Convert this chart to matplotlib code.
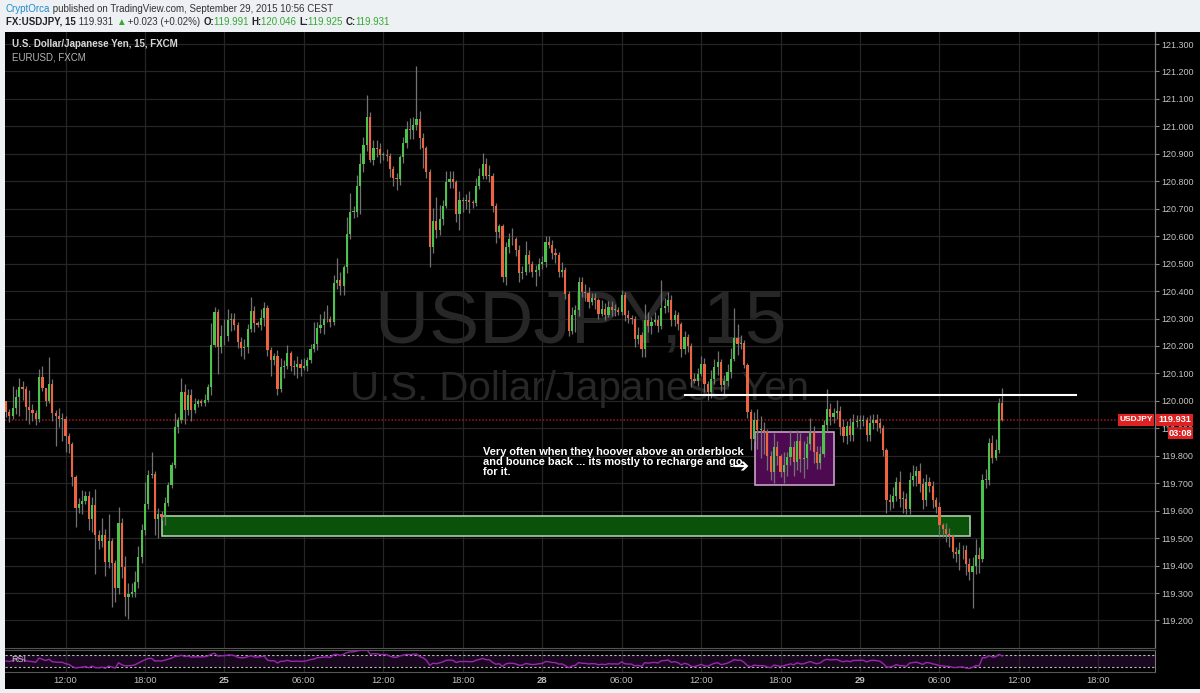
import numpy as np
import pandas as pd
import matplotlib
matplotlib.use('Agg')
import matplotlib.pyplot as plt
from matplotlib.patches import Rectangle

W, H = 1200, 693

# ---------------- data ----------------
open_first = 119.998
closes = [
    119.961, 119.943, 119.973, 120.013, 120.052, 120.043, 119.979, 119.967, 119.955, 119.933,
    120.087, 120.046, 120.001, 120.061, 119.955, 119.945, 119.933, 119.935, 119.872, 119.841,
    119.721, 119.611, 119.626, 119.635, 119.652, 119.571, 119.620, 119.510, 119.489, 119.513,
    119.412, 119.489, 119.409, 119.317, 119.555, 119.396, 119.287, 119.296, 119.305, 119.339,
    119.430, 119.530, 119.626, 119.729, 119.733, 119.571, 119.589, 119.577, 119.628, 119.693,
    119.766, 119.904, 119.930, 120.032, 119.967, 120.022, 119.967, 119.989, 119.998, 119.991,
    120.004, 120.052, 120.205, 120.323, 120.196, 120.235, 120.238, 120.296, 120.299, 120.278,
    120.213, 120.193, 120.196, 120.260, 120.327, 120.282, 120.278, 120.303, 120.340, 120.185,
    120.149, 120.164, 120.042, 120.125, 120.127, 120.173, 120.127, 120.125, 120.133, 120.121,
    120.127, 120.149, 120.188, 120.206, 120.267, 120.275, 120.297, 120.300, 120.288, 120.429,
    120.441, 120.417, 120.486, 120.608, 120.687, 120.689, 120.782, 120.863, 120.932, 121.033,
    120.879, 120.920, 120.918, 120.896, 120.896, 120.893, 120.845, 120.811, 120.808, 120.887,
    120.940, 120.991, 120.985, 121.005, 121.025, 120.957, 120.920, 120.833, 120.559, 120.654,
    120.623, 120.662, 120.711, 120.796, 120.808, 120.796, 120.681, 120.733, 120.729, 120.733,
    120.723, 120.721, 120.782, 120.818, 120.863, 120.818, 120.820, 120.709, 120.614, 120.636,
    120.453, 120.559, 120.591, 120.588, 120.549, 120.464, 120.470, 120.531, 120.500, 120.470,
    120.476, 120.500, 120.506, 120.579, 120.567, 120.537, 120.531, 120.470, 120.476, 120.391,
    120.255, 120.312, 120.330, 120.433, 120.397, 120.393, 120.360, 120.373, 120.366, 120.318,
    120.336, 120.314, 120.342, 120.330, 120.332, 120.324, 120.385, 120.312, 120.303, 120.300,
    120.227, 120.239, 120.190, 120.293, 120.272, 120.287, 120.293, 120.272, 120.340, 120.345,
    120.366, 120.293, 120.312, 120.279, 120.190, 120.233, 120.199, 120.081, 120.074, 120.099,
    120.135, 120.062, 120.032, 120.081, 120.123, 120.141, 120.056, 120.074, 120.105, 120.154,
    120.230, 120.208, 120.211, 120.129, 119.959, 119.862, 119.929, 119.893, 119.893, 119.887,
    119.798, 119.741, 119.832, 119.798, 119.741, 119.765, 119.795, 119.832, 119.777, 119.854,
    119.789, 119.793, 119.842, 119.887, 119.814, 119.773, 119.805, 119.911, 119.972, 119.941,
    119.954, 119.963, 119.905, 119.871, 119.907, 119.874, 119.923, 119.927, 119.927, 119.930,
    119.874, 119.919, 119.932, 119.919, 119.902, 119.820, 119.640, 119.631, 119.655, 119.704,
    119.643, 119.643, 119.607, 119.710, 119.728, 119.744, 119.698, 119.637, 119.704, 119.688,
    119.640, 119.613, 119.546, 119.534, 119.516, 119.506, 119.449, 119.443, 119.455, 119.455,
    119.406, 119.376, 119.400, 119.437, 119.424, 119.713, 119.713, 119.846, 119.793, 119.820,
    119.991, 119.931,
]
# wick lengths beyond the body, in pips (0.01 JPY)
wick_up_pips = [
    0, 1, 8, 3, 3, 2, 1, 6, 2, 1,   3, 4, 0, 10, 2, 1, 3, 2, 1, 1,
    1, 1, 2, 4, 2, 2, 3, 6, 2, 6,   2, 10, 1, 1, 6, 2, 4, 4, 3, 4,
    4, 2, 8, 2, 8, 1, 2, 1, 2, 1,   1, 5, 1, 5, 3, 2, 2, 2, 1, 1,
    2, 1, 8, 2, 1, 4, 6, 4, 2, 2,   1, 2, 3, 2, 5, 2, 1, 3, 2, 1,
    1, 1, 2, 3, 2, 3, 1, 2, 3, 2,   3, 1, 2, 8, 2, 4, 3, 5, 1, 3,
    8, 3, 1, 6, 7, 2, 4, 4, 3, 8,   2, 3, 3, 2, 1, 2, 1, 1, 2, 1,
    2, 3, 4, 3, 19.5, 3, 2, 1, 1, 5,   9, 5, 2, 4, 3, 3, 1, 3, 1, 2,
    3, 1, 3, 3, 4, 2, 4, 1, 1, 1,   1, 2, 2, 4, 1, 2, 2, 5, 2, 1,
    2, 2, 2, 2, 2, 2, 2, 1, 3, 1,   1, 3, 2, 2, 2, 3, 2, 2, 2, 1,
    3, 2, 2, 2, 2, 1, 2, 1, 2, 1,   1, 3, 1, 6, 3, 2, 3, 2, 10, 3,
    3, 2, 2, 1, 1, 2, 1, 1, 2, 2,   3, 2, 1, 3, 3, 4, 1, 2, 3, 4,
    11, 5, 3, 1, 1, 1, 3, 4, 5, 3,  1, 2, 5, 2, 1, 5, 2, 6, 2, 4,
    3, 6, 3, 5, 2, 2, 3, 2, 7, 2,   2, 4, 2, 3, 2, 3, 3, 2, 2, 2,
    1, 3, 2, 2, 2, 1, 1, 2, 3, 2,   4, 3, 2, 3, 4, 2, 3, 2, 3, 2,
    2, 1, 2, 1, 2, 2, 1, 2, 3, 2,   2, 2, 3, 6, 3, 2, 4, 2, 3, 4,
    2, 5.5,
]
wick_dn_pips = [
    2, 2, 1, 2, 7, 4, 5, 5, 3, 2,   1, 1, 2, 1, 3, 11, 3, 8, 6, 3,
    3, 7, 2, 4, 1, 4, 5, 14, 3, 2,  5, 2, 16, 5, 2, 4, 7, 8, 1, 2,
    2, 2, 2, 2, 1, 6, 7, 1, 3, 1,   1, 1, 2, 1, 5, 2, 4, 1, 1, 1,
    1, 1, 3, 1, 10, 2, 3, 2, 4, 2,  2, 3, 4, 2, 1, 3, 1, 2, 3, 2,
    6, 2, 2, 1, 4, 1, 2, 3, 4, 3,   1, 2, 1, 1, 2, 2, 3, 1, 2, 1,
    2, 3, 3, 2, 2, 2, 2, 10, 3, 2,  1, 2, 3, 3, 2, 2, 3, 3, 4, 2,
    2, 2, 3, 3, 2, 4, 7, 2, 7, 2,   3, 2, 2, 1, 2, 2, 3, 6, 4, 3,
    4, 2, 1, 1, 1, 1, 2, 2, 4, 2,   2, 3, 2, 2, 2, 3, 2, 1, 3, 2,
    5, 2, 2, 2, 1, 2, 3, 2, 2, 2,   2, 1, 6, 2, 2, 3, 2, 1, 3, 2,
    1, 2, 1, 2, 2, 1, 1, 2, 2, 2,   3, 2, 3, 3, 2, 3, 1, 2, 1, 2,
    2, 2, 2, 2, 3, 2, 2, 3, 1, 2,   1, 3, 3, 2, 2, 3, 2, 3, 2, 2,
    1, 4, 2, 1, 2, 4, 1, 7, 10, 8,  5, 3, 4, 3, 2, 4, 4, 3, 5, 3,
    5, 7, 4, 2, 4, 2, 2, 1, 2, 3,   2, 2, 3, 2, 3, 2, 2, 2, 3, 2,
    2, 2, 2, 3, 2, 2, 5, 3, 2, 2,   3, 5, 2, 2, 2, 4, 3, 3, 2, 2,
    3, 2, 4, 3, 3, 4, 2, 3, 6, 3,   4, 3, 13, 3, 5, 1, 3, 2, 2, 1,
    1, 0.6,
]

price_ticks = [119.2, 119.3, 119.4, 119.5, 119.6, 119.7, 119.8, 119.9,
               120.0, 120.1, 120.2, 120.3, 120.4, 120.5, 120.6, 120.7,
               120.8, 120.9, 121.0, 121.1, 121.2, 121.3]
time_labels = ['12:00', '18:00', '25', '06:00', '12:00', '18:00', '28',
               '06:00', '12:00', '18:00', '29', '06:00', '12:00', '18:00']
day_labels = ['25', '28', '29']
first_label_bar = 18
bars_per_label = 24

orderblock = dict(x0=47.0, x1=291.2, lo=119.509, hi=119.581)
range_box = dict(x0=226.3, x1=250.2, lo=119.692, hi=119.887)
resistance = dict(x0=205.1, x1=323.3, y=120.020)
last_price = 119.931

note = ("Very often when they hoover above an orderblock\n"
        "and bounce back ... its mostly to recharge and go\n"
        "for it.")

# ---------------- derived ----------------
closes_a = np.array(closes)
opens_a = np.array([open_first] + closes[:-1])
n = len(closes_a)
idx = np.arange(n)
top = np.maximum(opens_a, closes_a)
bot = np.minimum(opens_a, closes_a)
highs = top + np.array(wick_up_pips) * 0.01
lows = bot - np.array(wick_dn_pips) * 0.01
up = closes_a >= opens_a

# RSI(14), Wilder smoothing
cs = pd.Series(closes_a)
d = cs.diff()
gain = d.clip(lower=0)
loss = (-d).clip(lower=0)
gain.iloc[0] = 0.02
loss.iloc[0] = 0.02
ag = gain.ewm(alpha=1 / 14, adjust=False).mean()
al = loss.ewm(alpha=1 / 14, adjust=False).mean()
rsi = 100 - 100 / (1 + ag / al)

# ---------------- pixel geometry ----------------
PX_PER_PRICE = 274.5
Y_121_3 = 44.0
BAR0_X = 6.0
BAR_W = 3.31


def px_to_price(y):
    return 121.3 - (y - Y_121_3) / PX_PER_PRICE


def px_to_bar(x):
    return (x - BAR0_X) / BAR_W


fig = plt.figure(figsize=(W / 100, H / 100), dpi=100)
fig.patch.set_facecolor('#eef1f3')

bg = fig.add_axes([0, 0, 1, 1])
bg.set_xlim(0, W)
bg.set_ylim(H, 0)
bg.axis('off')
bg.add_patch(Rectangle((5, 32), W - 5, 657, facecolor='#000000', edgecolor='none'))


def pax(x0, y0, x1, y1):
    return fig.add_axes([x0 / W, 1 - y1 / H, (x1 - x0) / W, (y1 - y0) / H])


# watermark
bg.text(581, 343, 'USDJPY, 15', fontsize=54, color='#272727', ha='center',
        va='baseline', family='Liberation Sans')
bg.text(580, 400, 'U.S. Dollar/Japanese Yen', fontsize=29, color='#272727',
        ha='center', va='baseline', family='Liberation Sans')

# ---------------- main price pane ----------------
ax = pax(5, 32, 1155, 648)
ax.set_facecolor('none')
ax.set_xlim(px_to_bar(5), px_to_bar(1155))
ax.set_ylim(px_to_price(648), px_to_price(32))

xt = [first_label_bar + bars_per_label * k for k in range(len(time_labels))]
ax.set_xticks(xt)
ax.set_yticks(price_ticks)
ax.set_yticklabels(['%.3f' % p for p in price_ticks])
ax.grid(True, color='#262626', lw=0.9)
ax.set_axisbelow(True)
ax.tick_params(axis='x', bottom=False, labelbottom=False)
ax.tick_params(axis='y', left=False, labelleft=False, right=True, labelright=True,
               direction='out', length=3, width=0.8, color='#888888',
               labelcolor='#c4c4c4', labelsize=6.5, pad=1.5)
for lbl in ax.get_yticklabels():
    lbl.set_family('Liberation Sans')
for s in ('top', 'left'):
    ax.spines[s].set_visible(False)
ax.spines['right'].set_color('#7a7a7a')
ax.spines['bottom'].set_color('#555555')
ax.spines['right'].set_linewidth(0.9)

# boxes
ax.add_patch(Rectangle((orderblock['x0'], orderblock['lo']),
                       orderblock['x1'] - orderblock['x0'],
                       orderblock['hi'] - orderblock['lo'],
                       facecolor='#0a520a', edgecolor='#a9cfa9', lw=1.2, zorder=2))
ax.add_patch(Rectangle((range_box['x0'], range_box['lo']),
                       range_box['x1'] - range_box['x0'],
                       range_box['hi'] - range_box['lo'],
                       facecolor='#4e0a50', edgecolor='#c8a0c8', lw=1.2, zorder=2))

# current price dotted line
ax.plot([px_to_bar(5), px_to_bar(1118)], [last_price, last_price], color='#a31818',
        lw=1.1, ls=(0, (1, 1.2)), zorder=3)

# candles
ax.vlines(idx, lows, highs, color='#727272', lw=0.9, zorder=4)
body_h = np.maximum(top - bot, 0.003)
ax.bar(idx[up], body_h[up], bottom=bot[up], width=0.66, color='#4cc44c', zorder=5,
       linewidth=0)
ax.bar(idx[~up], body_h[~up], bottom=bot[~up], width=0.66, color='#ef6440', zorder=5,
       linewidth=0)

# resistance line
ax.plot([resistance['x0'], resistance['x1']], [resistance['y'], resistance['y']],
        color='white', lw=1.5, zorder=6)

# annotation
ax.text(483, 462, note, transform=bg.transData, color='white', fontsize=7.9,
        fontweight='bold', family='Liberation Sans', va='center', ha='left',
        linespacing=1.0, zorder=10)
ax.text(741, 467, '\u2794', transform=bg.transData, color='white', fontsize=14,
        fontweight='bold', family='DejaVu Sans', va='center', ha='center', zorder=10)

# chart titles
ax.text(12, 44, 'U.S. Dollar/Japanese Yen, 15, FXCM', transform=bg.transData,
        color='#d6d6d6', fontsize=7.0, fontweight='bold', family='Liberation Sans',
        va='center', ha='left', zorder=10)
ax.text(12, 58, 'EURUSD, FXCM', transform=bg.transData, color='#b4b4b4',
        fontsize=7.0, family='Liberation Sans', va='center', ha='left', zorder=10)

# right-side price labels
red = '#dc2222'
ax.add_patch(Rectangle((1118, 414), 36, 11.5, transform=bg.transData,
                       facecolor=red, edgecolor='none', zorder=11, clip_on=False))
ax.text(1136, 419.8, 'USDJPY', transform=bg.transData, color='white', fontsize=6.0,
        fontweight='bold', family='Liberation Sans', ha='center', va='center',
        zorder=12)
ax.add_patch(Rectangle((1156, 414), 37, 12, transform=bg.transData,
                       facecolor=red, edgecolor='none', zorder=11, clip_on=False))
ax.text(1174.5, 420, '%.3f' % last_price, transform=bg.transData, color='white',
        fontsize=6.6, fontweight='bold', family='Liberation Sans', ha='center',
        va='center', zorder=12)
ax.add_patch(Rectangle((1168, 427), 25, 12, transform=bg.transData,
                       facecolor=red, edgecolor='none', zorder=11, clip_on=False))
ax.text(1180.5, 433, '03:08', transform=bg.transData, color='white', fontsize=6.6,
        fontweight='bold', family='Liberation Sans', ha='center', va='center',
        zorder=12)

# ---------------- RSI pane ----------------
rax = pax(5, 650, 1155, 672)
rax.set_facecolor('none')
rax.set_xlim(ax.get_xlim())
rax.set_ylim(13.3, 86.7)
rax.axhspan(30, 70, color='#1a0820', lw=0, zorder=0)
rax.axhline(70, color='#bbbbbb', lw=0.8, ls=(0, (2, 2)), zorder=2)
rax.axhline(30, color='#bbbbbb', lw=0.8, ls=(0, (2, 2)), zorder=2)
rax.plot(idx, rsi, color='#9a26b0', lw=1.0, zorder=3)
rax.set_xticks(xt)
rax.set_xticklabels(time_labels)
rax.set_yticks([])
rax.grid(True, axis='x', color='#262626', lw=0.9)
rax.set_axisbelow(True)
rax.tick_params(axis='x', length=0, pad=3.0, labelcolor='#bdbdbd', labelsize=6.8)
for lbl in rax.get_xticklabels():
    lbl.set_family('Liberation Sans')
    if lbl.get_text() in day_labels:
        lbl.set_fontweight('bold')
rax.spines['left'].set_visible(False)
rax.spines['top'].set_color('#555555')
rax.spines['right'].set_color('#7a7a7a')
rax.spines['bottom'].set_color('#555555')
rax.text(11, 660, 'RSI', transform=bg.transData, color='#c8c8c8', fontsize=6.5,
         family='Liberation Sans', va='center', ha='left')

# ---------------- header ----------------
def chain(x, y, parts, size):
    t = bg.text(x, y, parts[0][0], color=parts[0][1], fontweight=parts[0][2],
                fontsize=size, family='Liberation Sans', va='baseline', ha='left')
    for s, col, wt in parts[1:]:
        t = bg.annotate(s, xy=(1, 0), xycoords=t, color=col, fontweight=wt,
                        fontsize=size, family='Liberation Sans', va='bottom',
                        ha='left')


dark = '#333333'
green = '#36a836'
chain(6, 12, [('CryptOrca', '#1f8ad0', 'normal'),
              (' published on TradingView.com, September 29, 2015 10:56 CEST', dark,
               'normal')], 7.0)
chain(6, 25, [('FX:USDJPY, 15', '#222222', 'bold'),
              (' 119.931 ', dark, 'normal'),
              ('\u25B2', green, 'normal'),
              (' +0.023 (+0.02%) ', dark, 'normal'),
              ('O:', '#222222', 'bold'), ('119.991 ', green, 'normal'),
              ('H:', '#222222', 'bold'), ('120.046 ', green, 'normal'),
              ('L:', '#222222', 'bold'), ('119.925 ', green, 'normal'),
              ('C:', '#222222', 'bold'), ('119.931', green, 'normal')], 7.0)

fig.savefig('out.png', dpi=100, facecolor=fig.get_facecolor())
